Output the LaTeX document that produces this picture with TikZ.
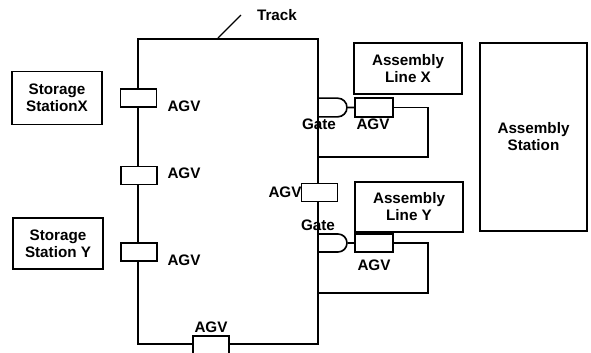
\documentclass[tikz,border=0pt]{standalone}
\usepackage{fontspec}
\setmainfont{Liberation Sans}
\usetikzlibrary{shapes.misc}
\begin{document}
\begin{tikzpicture}[x=0.03cm, y=-0.03cm, line width=1.4pt,
        every node/.style={font=\fontsize{13}{14.5}\selectfont\bfseries, inner sep=0pt},
        station/.style={draw, align=center, minimum width=2.7cm, minimum height=1.6cm},
        line/.style={draw, align=center, minimum width=3.24cm, minimum height=1.52cm},
        agv/.style={draw, fill=white, minimum width=1.08cm, minimum height=0.53cm},
        gate/.style={draw, fill=white, rounded rectangle, rounded rectangle left arc=none,
            minimum width=0.87cm, minimum height=0.56cm}]
        \useasboundingbox (0,0) rectangle (591,352);
        % track
        \coordinate (nw) at (138,39);
        \coordinate (ne) at (318,39);
        \coordinate (se) at (318,344);
        \coordinate (sw) at (138,344);
        \draw (nw)--(ne)--(se)--(sw)--cycle;
        \node (track) at (277,15) {Track};
        \coordinate (tk) at (218,38);
        \coordinate (tkend) at (241,15);
        \draw[line width=1pt] (tk)--(tkend);
        % stations
        \node[station] (stx) at (57,98) {Storage\\StationX};
        \node[station, minimum height=1.53cm] (sty) at (58,243.5) {Storage\\Station Y};
        \node[line] (alx) at (408,68.5) {Assembly\\Line X};
        \node[line, minimum height=1.5cm] (aly) at (409,207) {Assembly\\Line Y};
        \node[draw, align=center, minimum width=3.21cm, minimum height=5.64cm] (as) at (533.5,137) {Assembly\\Station};
        % AGVs on the track
        \node[agv] (a1) at (138.5,98) {};
        \node[agv] (a2) at (139,175.5) {};
        \node[agv] (a3) at (139,252) {};
        \node[agv] (a4) at (211,345) {};
        \node[agv] (a5) at (319.5,192.5) {};
        \node (l1) at (184,106) {AGV};
        \node (l2) at (184,173) {AGV};
        \node (l3) at (184,260) {AGV};
        \node (l4) at (211,327) {AGV};
        \node (l5) at (285,192) {AGV};
        % gate and loop for line X
        \node[gate] (gx) at (332.5,107.5) {};
        \node[agv, minimum width=1.14cm, minimum height=0.57cm] (ax) at (374,107.5) {};
        \coordinate (lx) at (428,157);
        \draw (gx)--(ax);
        \draw (ax.east) -| (lx) -- (lx -| ne);
        \node (gxl) at (319,124) {Gate};
        \node (axl) at (373,124) {AGV};
        % gate and loop for line Y
        \node[gate, minimum height=0.54cm] (gy) at (332.5,243) {};
        \node[agv, minimum width=1.14cm, minimum height=0.54cm] (ay) at (374,243) {};
        \coordinate (ly) at (428,293);
        \draw (gy)--(ay);
        \draw (ay.east) -| (ly) -- (ly -| ne);
        \node (gyl) at (318,225) {Gate};
        \node (ayl) at (374,265) {AGV};
    \end{tikzpicture}
\end{document}
